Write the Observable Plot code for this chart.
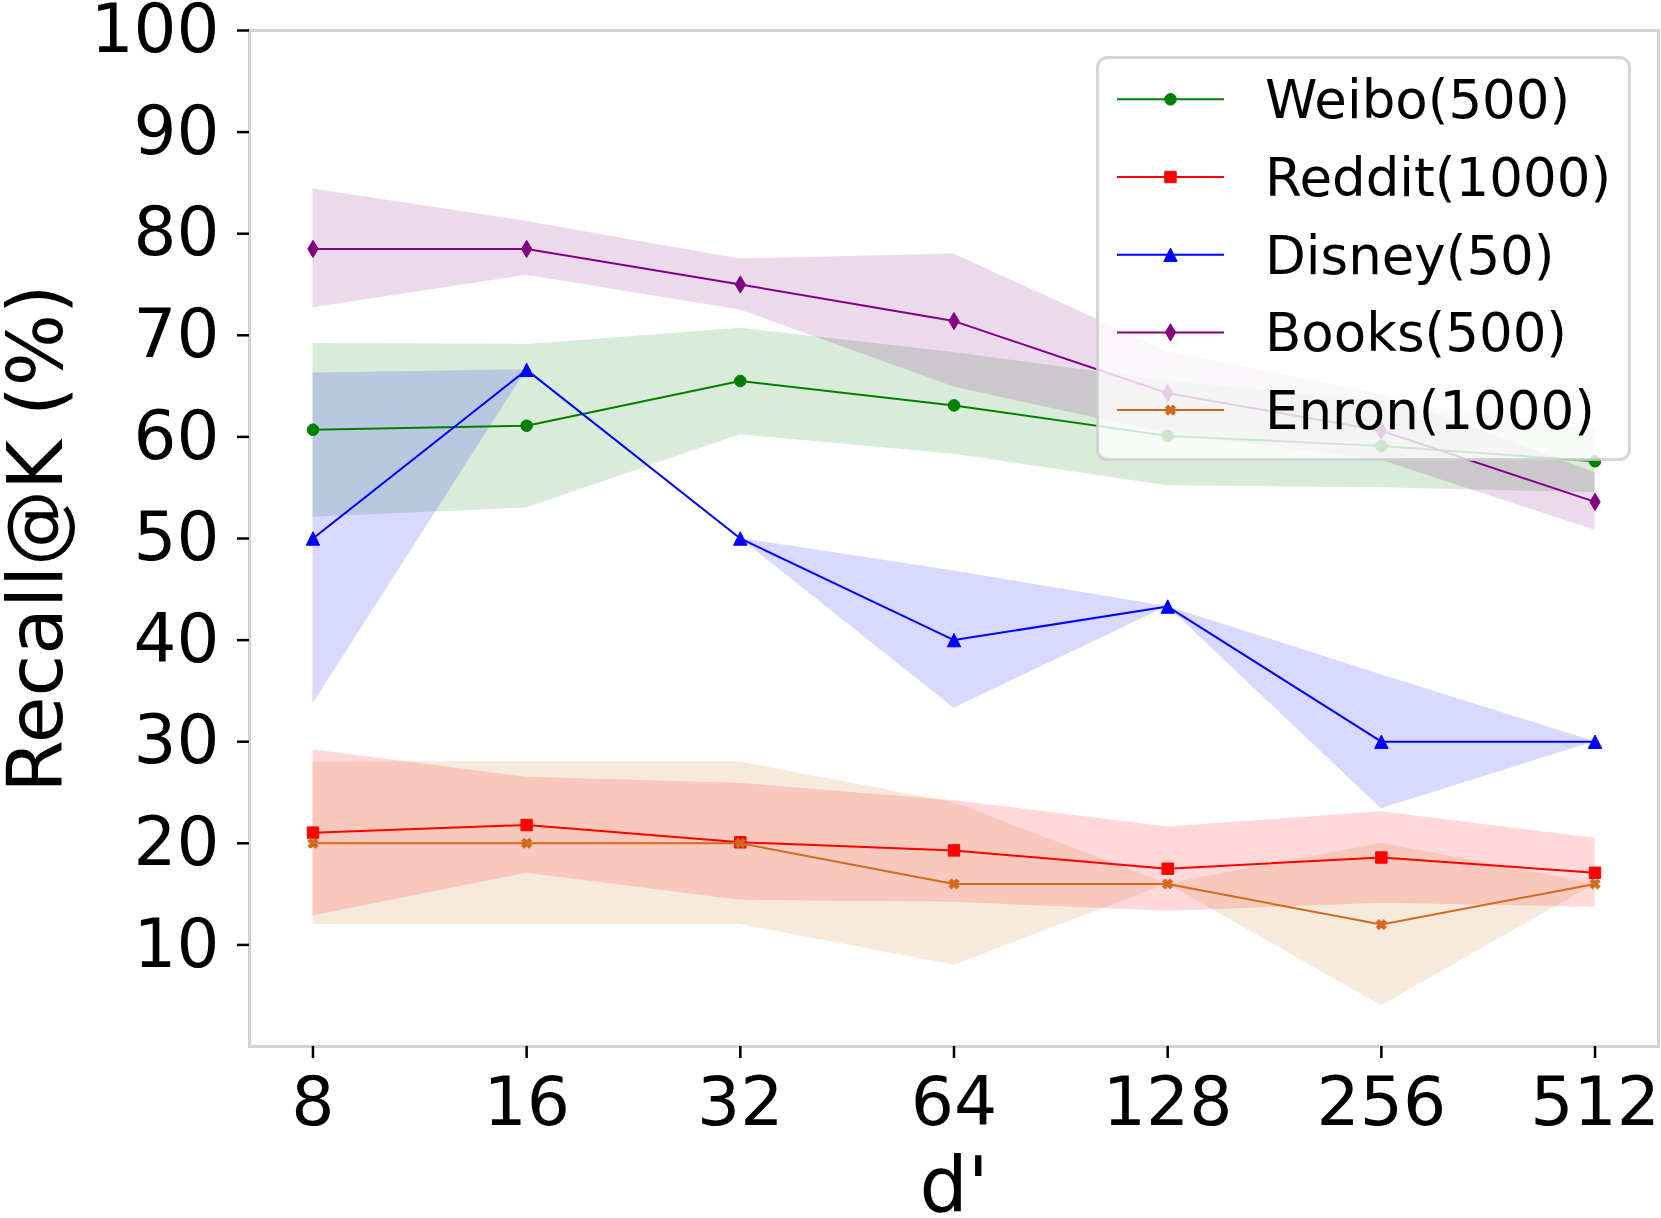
<!DOCTYPE html>
<html>
<head>
<meta charset="utf-8">
<script src="https://cdn.jsdelivr.net/npm/d3@7"></script>
<script src="https://cdn.jsdelivr.net/npm/@observablehq/plot@0.6"></script>
<style>
  html, body { margin: 0; padding: 0; background: #fff; }
  #wrap { position: relative; width: 1661px; height: 1218px; }
  #legend { position: absolute; left: 0; top: 0; pointer-events: none; }
</style>
</head>
<body>
<div id="wrap"></div>
<script>
// ---------- data ----------
const dims = [8, 16, 32, 64, 128, 256, 512];
const yTicks = [10, 20, 30, 40, 50, 60, 70, 80, 90, 100];
const seriesNames = ["Weibo(500)", "Reddit(1000)", "Disney(50)", "Books(500)", "Enron(1000)"];
const seriesColors = ["green", "red", "blue", "purple", "chocolate"];

const weiboMean = [60.7, 61.1, 65.5, 63.1, 60.1, 59.1, 57.6];
const weiboLow  = [52.1, 53.0, 60.2, 58.3, 55.2, 55.0, 54.5];
const weiboHigh = [69.2, 69.1, 70.7, 68.3, 65.5, 63.5, 60.8];

const redditMean = [21.05, 21.8, 20.1, 19.3, 17.5, 18.6, 17.1];
const redditLow  = [12.85, 17.05, 14.4, 14.2, 13.3, 14.1, 13.7];
const redditHigh = [29.2, 26.5, 25.9, 24.2, 21.6, 23.1, 20.5];

const disneyMean = [50, 66.6, 50, 40, 43.3, 30, 30];
const disneyLow  = [33.7, 66.6, 50, 33.3, 43.3, 23.4, 30];
const disneyHigh = [66.3, 66.6, 50, 46.8, 43.3, 36.6, 30];

const booksMean = [78.5, 78.5, 75.0, 71.4, 64.3, 60.6, 53.6];
const booksLow  = [72.7, 75.9, 72.5, 64.9, 60.3, 57.7, 50.8];
const booksHigh = [84.4, 81.2, 77.5, 78.0, 68.4, 64.2, 56.5];

const enronMean = [20, 20, 20, 16, 16, 12, 16];
const enronLow  = [12, 12, 12, 8, 16, 4, 16];
const enronHigh = [28, 28, 28, 24, 16, 20, 16];

const xLabel = "d'";
const yLabel = "Recall@K (%)";

// ---------- marker shapes ----------
const mkSym = fn => ({ draw(ctx, size) { const r = Math.sqrt(size / Math.PI); fn(ctx, r); } });
const symCircle = mkSym((c, r) => { c.moveTo(r, 0); c.arc(0, 0, r, 0, 2 * Math.PI); });
const symSquare = mkSym((c, r) => { c.moveTo(-r, -r); c.lineTo(r, -r); c.lineTo(r, r); c.lineTo(-r, r); c.closePath(); });
const symTriangle = mkSym((c, r) => { c.moveTo(0, -r); c.lineTo(r, r); c.lineTo(-r, r); c.closePath(); });
const symThinDiamond = mkSym((c, r) => { c.moveTo(0, -r); c.lineTo(0.6 * r, 0); c.lineTo(0, r); c.lineTo(-0.6 * r, 0); c.closePath(); });
const symFilledX = mkSym((c, r) => {
  const L = r, t = 0.35 * r, a = Math.SQRT1_2;
  const pts = [[t, t], [t, L], [-t, L], [-t, t], [-L, t], [-L, -t], [-t, -t], [-t, -L], [t, -L], [t, -t], [L, -t], [L, t]];
  pts.forEach(([x, y], i) => { const X = (x - y) * a, Y = (x + y) * a; i ? c.lineTo(X, Y) : c.moveTo(X, Y); });
  c.closePath();
});
const symbols = [symCircle, symSquare, symTriangle, symThinDiamond, symFilledX];
const radii = [5.8, 5.7, 6.7, 8.6, 5.3];

const means = [weiboMean, redditMean, disneyMean, booksMean, enronMean];
const lows = [weiboLow, redditLow, disneyLow, booksLow, enronLow];
const highs = [weiboHigh, redditHigh, disneyHigh, booksHigh, enronHigh];

const series = seriesNames.map((name, i) => ({
  name, color: seriesColors[i], symbol: symbols[i], r: radii[i],
  rows: dims.map((d, j) => ({ series: name, d, mean: means[i][j], low: lows[i][j], high: highs[i][j] }))
}));

// ---------- chart ----------
const pad = 0.297;
const marks = [];
series.forEach(s => marks.push(Plot.areaY(s.rows, { x: "d", y1: "low", y2: "high", fill: s.color, fillOpacity: 0.15 })));
series.forEach(s => {
  marks.push(Plot.lineY(s.rows, { x: "d", y: "mean", stroke: s.color, strokeWidth: 2 }));
  marks.push(Plot.dot(s.rows, { x: "d", y: "mean", fill: s.color, stroke: s.color, strokeWidth: 1, r: s.r, symbol: s.symbol }));
});
marks.push(Plot.frame({ stroke: "#d3d3d3", strokeWidth: 3 }));
marks.push(Plot.axisX({ ticks: dims, tickFormat: d => String(d), tickSize: 12, tickPadding: 18, fontSize: 68, strokeWidth: 2.5, label: null }));
marks.push(Plot.axisY({ ticks: yTicks, tickSize: 12, tickPadding: 18, fontSize: 67.5, strokeWidth: 2.5, label: null }));
marks.push(Plot.text([yLabel], { frameAnchor: "left", textAnchor: "middle", lineAnchor: "middle", dx: -212, rotate: -90, fontSize: 76, fill: "black" }));
marks.push(Plot.text([xLabel], { frameAnchor: "bottom", textAnchor: "middle", dy: 164, lineAnchor: "bottom", fontSize: 76, fill: "black" }));

const chart = Plot.plot({
  width: 1661, height: 1218,
  marginLeft: 249, marginRight: 3, marginTop: 30, marginBottom: 172,
  x: { type: "log", base: 2, domain: [8 * Math.pow(2, -pad), 512 * Math.pow(2, pad)] },
  y: { domain: [0, 100] },
  style: { fontFamily: "DejaVu Sans", background: "white", color: "black", overflow: "visible" },
  marks
});
const wrap = document.getElementById("wrap");
wrap.appendChild(chart);

// ---------- legend overlay ----------
const lg = d3.select(wrap).append("svg").attr("id", "legend")
  .attr("width", 1661).attr("height", 1218)
  .style("font-family", "DejaVu Sans");
lg.append("rect").attr("x", 1097.5).attr("y", 57.5).attr("width", 532).attr("height", 402)
  .attr("rx", 10).attr("fill", "white").attr("fill-opacity", 0.8)
  .attr("stroke", "#cccccc").attr("stroke-opacity", 0.8).attr("stroke-width", 3);
series.forEach((s, i) => {
  const y = 99.3 + i * 77.7;
  const g = lg.append("g");
  g.append("line").attr("x1", 1117).attr("x2", 1224).attr("y1", y).attr("y2", y)
    .attr("stroke", s.color).attr("stroke-width", 2);
  g.append("path").attr("transform", `translate(1170.5,${y})`)
    .attr("d", d3.symbol().type(s.symbol).size(Math.PI * s.r * s.r)())
    .attr("fill", s.color).attr("stroke", s.color).attr("stroke-width", 1);
  g.append("text").attr("x", 1265).attr("y", y + 19).attr("font-size", 53).attr("fill", "black").text(s.name);
});
</script>
</body>
</html>
